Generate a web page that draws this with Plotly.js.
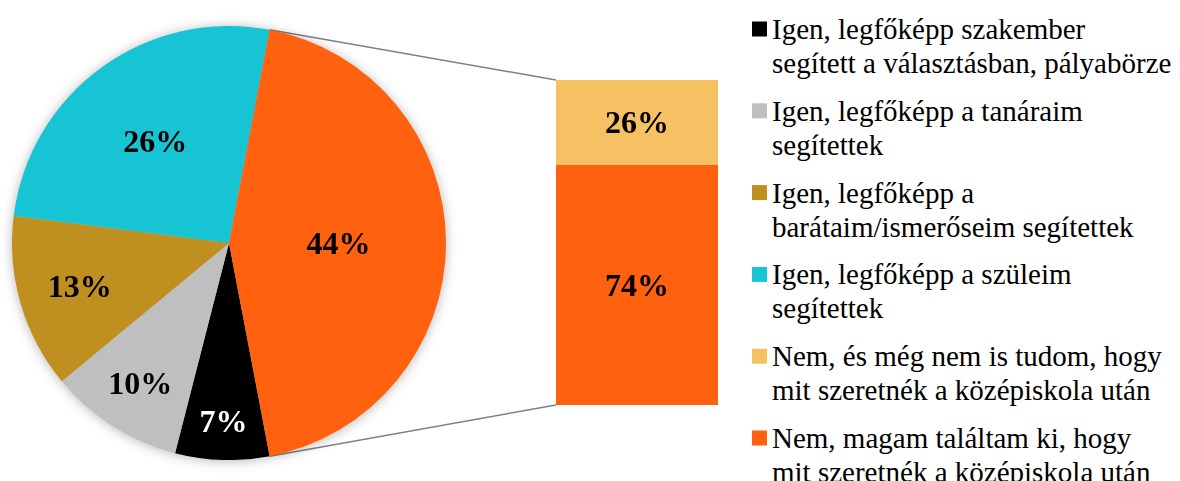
<!DOCTYPE html>
<html>
<head>
<meta charset="utf-8">
<script src="https://cdn.plot.ly/plotly-3.0.1.min.js"></script>
<style>
    html, body { margin: 0; padding: 0; background: #ffffff; }
    #chart { width: 1180px; height: 481px; }
    .pielayer, .barlayer { filter: drop-shadow(0 1px 6px rgba(0, 0, 0, 0.28)); }
</style>
</head>
<body>
<div id="chart"></div>
<script>
(function () {
    'use strict';

    // pie: the "Nem" slice (last) is split in the bar on the right
    var pieLabels = [
        'Igen, legfőképp szakember segített a választásban, pályabörze',
        'Igen, legfőképp a tanáraim segítettek',
        'Igen, legfőképp a barátaim/ismerőseim segítettek',
        'Igen, legfőképp a szüleim segítettek',
        'Nem'
    ];
    var pieValues = [7, 10, 13, 26, 44];
    var pieColors = ['#000000', '#bfbfbf', '#bf8f1f', '#17c4d4', '#ff610e'];
    var pieTextColors = ['#ffffff', '#000000', '#000000', '#000000', '#000000'];

    // bar: bottom segment first, top segment second
    var barLabels = [
        'Nem, magam találtam ki, hogy mit szeretnék a középiskola után',
        'Nem, és még nem is tudom, hogy mit szeretnék a középiskola után'
    ];
    var barValues = [74, 26];
    var barColors = ['#ff610e', '#f5c163'];

    // legend, in the order it is shown
    var legendLabels = [
        'Igen, legfőképp szakember<br>segített a választásban, pályabörze',
        'Igen, legfőképp a tanáraim<br>segítettek',
        'Igen, legfőképp a<br>barátaim/ismerőseim segítettek',
        'Igen, legfőképp a szüleim<br>segítettek',
        'Nem, és még nem is tudom, hogy<br>mit szeretnék a középiskola után',
        'Nem, magam találtam ki, hogy<br>mit szeretnék a középiskola után'
    ];
    var legendColors = ['#000000', '#bfbfbf', '#bf8f1f', '#17c4d4', '#f5c163', '#ff610e'];

    var W = 1180, H = 481;
    var FONT = 'Liberation Serif, Times New Roman, serif';

    var pieDomX = [12 / W, 446 / W];
    var pieDomY = [1 - 460 / H, 1 - 26 / H];
    var barDomX = [556 / W, 718 / W];
    var barDomY = [1 - 405 / H, 1 - 80 / H];

    var total = pieValues.reduce(function (a, b) { return a + b; }, 0);
    var splitShare = pieValues[pieValues.length - 1] / total;
    // split slice centred on 3 o'clock
    var rotation = 90 + 180 * splitShare;

    var data = [];

    data.push({
        type: 'pie',
        labels: pieLabels,
        values: pieValues,
        sort: false,
        direction: 'clockwise',
        rotation: rotation,
        domain: { x: pieDomX, y: pieDomY },
        marker: { colors: pieColors, line: { width: 0 } },
        texttemplate: '%{value}%',
        textposition: 'inside',
        insidetextorientation: 'horizontal',
        textfont: { family: FONT, size: 32, weight: 'bold', color: pieTextColors },
        showlegend: false,
        hoverinfo: 'none'
    });

    barValues.forEach(function (v, i) {
        data.push({
            type: 'bar',
            x: [0],
            y: [v],
            width: 1,
            name: barLabels[i],
            marker: { color: barColors[i], line: { width: 0 } },
            texttemplate: '%{y}%',
            textposition: 'inside',
            insidetextanchor: 'middle',
            textangle: 0,
            textfont: { family: FONT, size: 32, weight: 'bold', color: '#000000' },
            showlegend: false,
            hoverinfo: 'none'
        });
    });

    // connector lines from the split slice edges to the bar corners
    var cx = W * (pieDomX[0] + pieDomX[1]) / 2;
    var cy = H * (1 - (pieDomY[0] + pieDomY[1]) / 2);
    var r = Math.min(W * (pieDomX[1] - pieDomX[0]), H * (pieDomY[1] - pieDomY[0])) / 2;
    var startDeg = rotation + 360 * (1 - splitShare);
    var endDeg = rotation;
    function edge(deg) {
        var a = deg * Math.PI / 180;
        return [(cx + r * Math.sin(a)) / W, 1 - (cy - r * Math.cos(a)) / H];
    }
    var pTop = edge(startDeg);
    var pBot = edge(endDeg);

    var shapes = [
        { type: 'line', xref: 'paper', yref: 'paper', x0: pTop[0], y0: pTop[1], x1: barDomX[0], y1: barDomY[1],
          line: { color: '#808080', width: 1.5 }, layer: 'below' },
        { type: 'line', xref: 'paper', yref: 'paper', x0: pBot[0], y0: pBot[1], x1: barDomX[0], y1: barDomY[0],
          line: { color: '#808080', width: 1.5 }, layer: 'below' }
    ];

    // legend drawn by hand: a square and one text line per row
    var annotations = [];
    var LEG_TOP = 29, LEG_PITCH = 81.8, LINE_PITCH = 34, SQ = 15;
    legendLabels.forEach(function (label, i) {
        var yc = LEG_TOP + LEG_PITCH * i;
        shapes.push({
            type: 'rect', xref: 'paper', yref: 'paper',
            x0: 752 / W, x1: (752 + SQ) / W,
            y0: 1 - (yc + SQ / 2) / H, y1: 1 - (yc - SQ / 2) / H,
            fillcolor: legendColors[i], line: { width: 0 }
        });
        label.split('<br>').forEach(function (line, j) {
            annotations.push({
                xref: 'paper', yref: 'paper',
                x: 770 / W, y: 1 - (yc + LINE_PITCH * j) / H,
                xanchor: 'left', yanchor: 'middle',
                text: line, showarrow: false,
                font: { family: FONT, size: 29, color: '#000000' }
            });
        });
    });

    var layout = {
        width: W,
        height: H,
        margin: { l: 0, r: 0, t: 0, b: 0, pad: 0 },
        paper_bgcolor: '#ffffff',
        plot_bgcolor: 'rgba(0,0,0,0)',
        barmode: 'stack',
        showlegend: false,
        xaxis: { domain: barDomX, range: [-0.5, 0.5], visible: false, fixedrange: true },
        yaxis: { domain: barDomY, range: [0, 100], visible: false, fixedrange: true },
        shapes: shapes,
        annotations: annotations
    };

    Plotly.newPlot('chart', data, layout, { displayModeBar: false, staticPlot: true });
})();
</script>
</body>
</html>
